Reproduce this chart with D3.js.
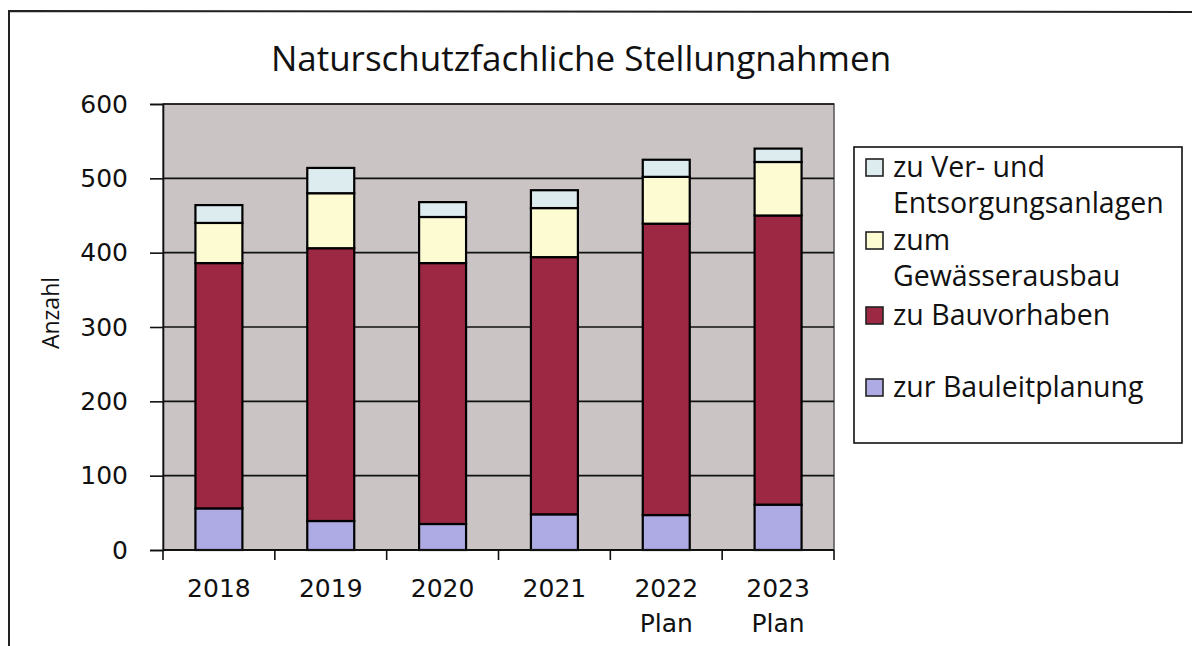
<!DOCTYPE html>
<html lang="de">
<head>
  <meta charset="UTF-8">
  <title>Naturschutzfachliche Stellungnahmen</title>
  <script src="https://d3js.org/d3.v7.min.js"></script>
  <style>
    html, body {
      margin: 0;
      padding: 0;
      background: #fff;
    }

    svg text {
      font-family: "DejaVu Sans", Verdana, sans-serif;
      fill: #111;
    }

    svg text.humanist {
      font-family: "Open Sans", "Noto Sans", sans-serif;
    }
  </style>
</head>
<body>
  <svg width="1192" height="646"></svg>

  <script>
    // Daten
    const years = ["2018", "2019", "2020", "2021", "2022", "2023"];
    const yearNotes = ["", "", "", "", "Plan", "Plan"];
    const bauleitplanung = [56, 39, 35, 48, 47, 61];
    const bauvorhaben = [330, 367, 351, 346, 392, 389];
    const gewaesser = [54, 74, 62, 66, 63, 72];
    const versorgung = [24, 34, 20, 24, 23, 18];
    const yTicks = [0, 100, 200, 300, 400, 500, 600];

    const keys = ["bauleit", "bau", "gew", "ver"];
    const labels = {
      ver: ["zu Ver- und", "Entsorgungsanlagen"],
      gew: ["zum", "Gewässerausbau"],
      bau: ["zu Bauvorhaben"],
      bauleit: ["zur Bauleitplanung"]
    };
    const color = d3.scaleOrdinal()
      .domain(keys)
      .range(["#aeabe4", "#9c2843", "#fdfbd2", "#dcecef"]);

    const rows = years.map((y, i) => ({
      year: y,
      note: yearNotes[i],
      bauleit: bauleitplanung[i],
      bau: bauvorhaben[i],
      gew: gewaesser[i],
      ver: versorgung[i]
    }));

    const svg = d3.select("svg");

    // Rahmen
    svg.append("path")
      .attr("d", "M9,646 L9,11 L1192,12")
      .attr("fill", "none")
      .attr("stroke", "#222")
      .attr("stroke-width", 2);

    const plot = {left: 163, right: 834, top: 104, bottom: 550};

    const x = d3.scaleBand()
      .domain(years)
      .range([plot.left, plot.right])
      .paddingInner(0.58)
      .paddingOuter(0.29);

    const y = d3.scaleLinear()
      .domain([0, 600])
      .range([plot.bottom, plot.top]);

    // Plotfläche
    svg.append("rect")
      .attr("x", plot.left)
      .attr("y", plot.top)
      .attr("width", plot.right - plot.left)
      .attr("height", plot.bottom - plot.top)
      .attr("fill", "#cac4c5")
      .attr("stroke", "#555")
      .attr("stroke-width", 1.5);

    // Gitternetz
    svg.append("g")
      .selectAll("line")
      .data(yTicks.slice(1))
      .join("line")
        .attr("x1", plot.left)
        .attr("x2", plot.right)
        .attr("y1", d => y(d))
        .attr("y2", d => y(d))
        .attr("stroke", "#111")
        .attr("stroke-width", 1.6);

    // Balken
    const series = d3.stack().keys(keys)(rows);

    svg.append("g")
      .selectAll("g")
      .data(series)
      .join("g")
        .attr("fill", d => color(d.key))
      .selectAll("rect")
      .data(d => d)
      .join("rect")
        .attr("x", d => x(d.data.year))
        .attr("width", x.bandwidth())
        .attr("y", d => y(d[1]))
        .attr("height", d => y(d[0]) - y(d[1]))
        .attr("stroke", "#000")
        .attr("stroke-width", 2.2);

    // y-Achse
    const yAxis = svg.append("g")
      .attr("transform", `translate(${plot.left},0)`)
      .call(d3.axisLeft(y).tickValues(yTicks).tickSize(13).tickPadding(22));
    yAxis.select(".domain").attr("stroke", "#111").attr("stroke-width", 1.6);
    yAxis.selectAll(".tick line").attr("stroke", "#111").attr("stroke-width", 1.6);
    yAxis.selectAll(".tick text")
      .attr("font-size", 25)
      .attr("font-family", "DejaVu Sans");

    // x-Achse
    svg.append("line")
      .attr("x1", plot.left).attr("x2", plot.right)
      .attr("y1", plot.bottom).attr("y2", plot.bottom)
      .attr("stroke", "#111").attr("stroke-width", 1.8);

    const step = x.step();
    svg.append("g")
      .selectAll("line")
      .data(d3.range(years.length + 1))
      .join("line")
        .attr("x1", i => plot.left + i * step)
        .attr("x2", i => plot.left + i * step)
        .attr("y1", plot.bottom)
        .attr("y2", plot.bottom + 10)
        .attr("stroke", "#111")
        .attr("stroke-width", 1.6);

    const xLabels = svg.append("g")
      .selectAll("text")
      .data(rows)
      .join("text")
        .attr("text-anchor", "middle")
        .attr("font-size", 25)
        .attr("x", d => x(d.year) + x.bandwidth() / 2)
        .attr("y", 597);
    xLabels.append("tspan").text(d => d.year);
    xLabels.append("tspan")
      .attr("x", d => x(d.year) + x.bandwidth() / 2)
      .attr("dy", 35)
      .text(d => d.note);

    // Achsentitel
    svg.append("text")
      .attr("class", "humanist")
      .attr("transform", "translate(59,313) rotate(-90)")
      .attr("text-anchor", "middle")
      .attr("font-size", 23)
      .text("Anzahl");

    // Titel
    svg.append("text")
      .attr("class", "humanist")
      .attr("x", 581)
      .attr("y", 71)
      .attr("text-anchor", "middle")
      .attr("font-size", 35)
      .text("Naturschutzfachliche Stellungnahmen");

    // Legende
    const legend = svg.append("g");
    legend.append("rect")
      .attr("x", 854).attr("y", 147)
      .attr("width", 328).attr("height", 296)
      .attr("fill", "#fff")
      .attr("stroke", "#111")
      .attr("stroke-width", 1.6);

    const legendKeys = ["ver", "gew", "bau", "bauleit"];
    const legendTop = [177, 250, 325, 397];

    const item = legend.selectAll("g.item")
      .data(legendKeys)
      .join("g")
        .attr("class", "item")
        .attr("transform", (d, i) => `translate(0,${legendTop[i]})`);

    item.append("rect")
      .attr("x", 866).attr("y", -18)
      .attr("width", 17).attr("height", 17)
      .attr("fill", d => color(d))
      .attr("stroke", "#222")
      .attr("stroke-width", 1.6);

    item.append("text")
      .attr("class", "humanist")
      .attr("font-size", 28.5)
      .selectAll("tspan")
      .data(d => labels[d])
      .join("tspan")
        .attr("x", 893)
        .attr("y", (d, i) => i * 36)
        .text(d => d);
  </script>
</body>
</html>
